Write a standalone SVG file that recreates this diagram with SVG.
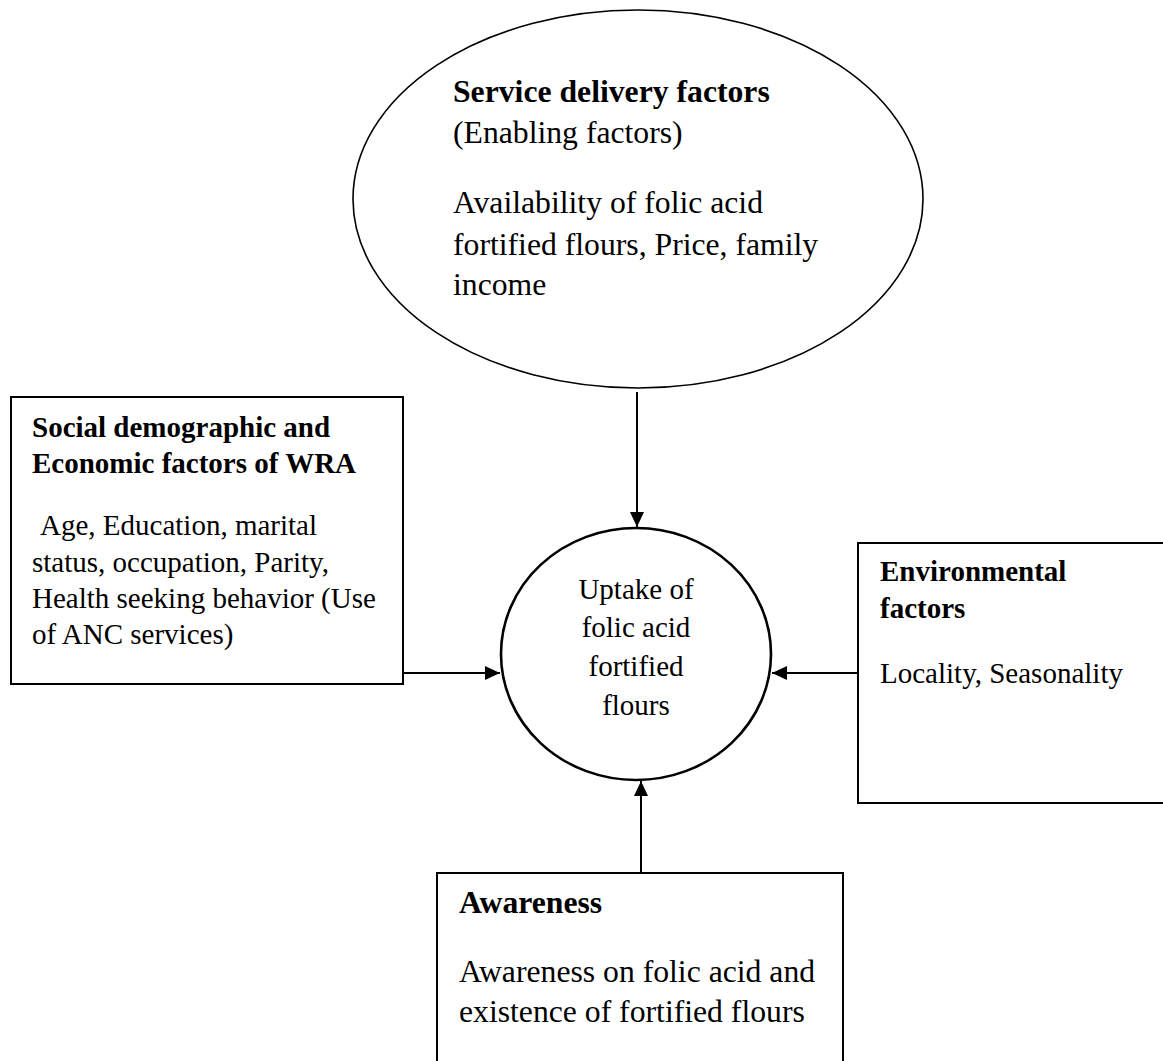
<svg xmlns="http://www.w3.org/2000/svg" width="1163" height="1061" viewBox="0 0 1163 1061">
<style>
text{font-family:"Liberation Serif","Times New Roman",serif;fill:#000}
.b{font-weight:bold}
.s29{font-size:29px}
.s32{font-size:31.7px}
.shape{fill:#fff;stroke:#000}
.conn{stroke:#000;stroke-width:2;fill:none}
</style>
<defs>
<marker id="ah" markerUnits="userSpaceOnUse" markerWidth="16" markerHeight="14" refX="15" refY="7" orient="auto">
<path d="M0,0 L15,7 L0,14 Z" fill="#000"/>
</marker>
</defs>
<rect width="1163" height="1061" fill="#fff"/>
<g id="service-delivery">
<ellipse class="shape" cx="638" cy="199" rx="285" ry="189" stroke-width="1.6"/>
<text class="s32 b" x="453" y="102">Service delivery factors</text>
<text class="s32" x="453" y="143">(Enabling factors)</text>
<text class="s32" x="453" y="213">Availability of folic acid</text>
<text class="s32" x="453" y="255">fortified flours, Price, family</text>
<text class="s32" x="453" y="295">income</text>
</g>
<g id="social-demographic">
<rect class="shape" x="11" y="397" width="392" height="287" stroke-width="2"/>
<text class="s29 b" x="32" y="437">Social demographic and</text>
<text class="s29 b" x="32" y="473">Economic factors of WRA</text>
<text class="s29" x="40" y="535">Age, Education, marital</text>
<text class="s29" x="32" y="572">status, occupation, Parity,</text>
<text class="s29" x="32" y="608">Health seeking behavior (Use</text>
<text class="s29" x="32" y="644">of ANC services)</text>
</g>
<g id="environmental">
<rect class="shape" x="858" y="543" width="320" height="260" stroke-width="2"/>
<text class="s29 b" x="880" y="581">Environmental</text>
<text class="s29 b" x="880" y="618">factors</text>
<text class="s29" x="880" y="683">Locality, Seasonality</text>
</g>
<g id="awareness">
<rect class="shape" x="437" y="873" width="406" height="200" stroke-width="2"/>
<text class="s32 b" x="459" y="913">Awareness</text>
<text class="s32" x="459" y="982">Awareness on folic acid and</text>
<text class="s32" x="459" y="1022">existence of fortified flours</text>
</g>
<g id="uptake">
<ellipse class="shape" cx="636" cy="654" rx="135" ry="126" stroke-width="2.6"/>
<text class="s29" x="636" y="599" text-anchor="middle">Uptake of</text>
<text class="s29" x="636" y="637" text-anchor="middle">folic acid</text>
<text class="s29" x="636" y="676" text-anchor="middle">fortified</text>
<text class="s29" x="636" y="715" text-anchor="middle">flours</text>
</g>
<g id="connectors">
<line class="conn" x1="637" y1="392" x2="637" y2="527" marker-end="url(#ah)"/>
<line class="conn" x1="403" y1="673" x2="500" y2="673" marker-end="url(#ah)"/>
<line class="conn" x1="858" y1="673" x2="772" y2="673" marker-end="url(#ah)"/>
<line class="conn" x1="641" y1="873" x2="641" y2="781" marker-end="url(#ah)"/>
</g>
</svg>
